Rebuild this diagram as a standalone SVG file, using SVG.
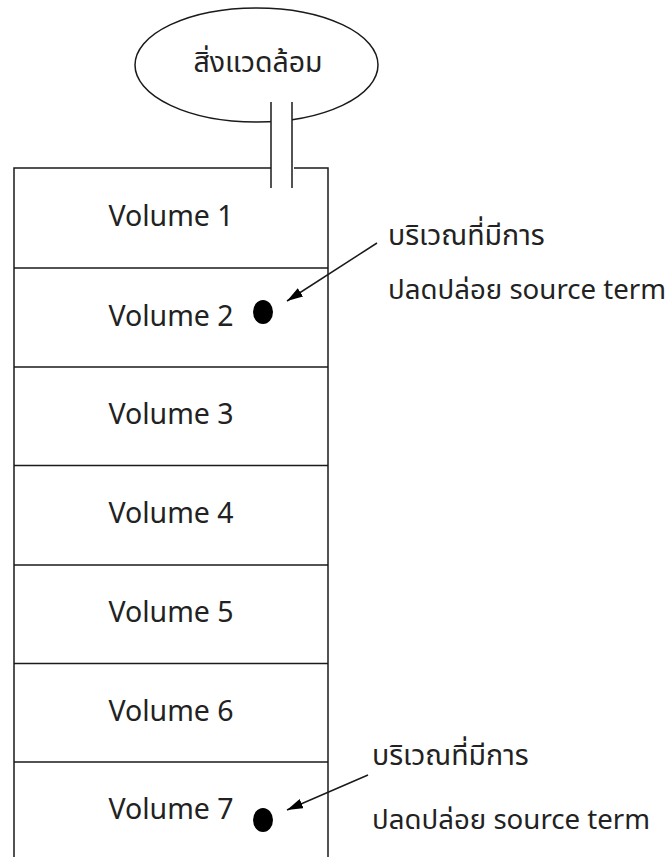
<svg xmlns="http://www.w3.org/2000/svg" width="670" height="857" viewBox="0 0 670 857">
  <style>
    .ln { fill: none; stroke: #1a1a1a; stroke-width: 1.5; }
    .lbl { font-family: "Noto Sans Thai", "Noto Sans Thai UI", "Leelawadee UI", Tahoma, "Noto Sans", "DejaVu Sans", sans-serif; fill: #222; }
    .vol { font-size: 28.5px; text-anchor: middle; }
    .note { font-size: 28.5px; }
    .note2 { font-size: 27.5px; }
    .dot { fill: #000; }
  </style>
  <defs>
    <marker id="arrowhead" viewBox="0 0 16 10" refX="16" refY="5" markerWidth="16" markerHeight="10" markerUnits="userSpaceOnUse" orient="auto">
      <path d="M0,0 L16,5 L0,10 Z" fill="#000"/>
    </marker>
  </defs>

  <rect width="670" height="857" fill="#fff"/>

  <!-- environment -->
  <g id="environment">
    <ellipse class="ln" cx="256.5" cy="65" rx="121.5" ry="57"/>
    <text class="lbl" x="258" y="72" font-size="28.5" text-anchor="middle">สิ่งแวดล้อม</text>
  </g>

  <!-- stack of control volumes -->
  <g id="volumes">
    <path class="ln" d="M14,860 V168 H271 M294,168 H328 V860"/>
    <g id="volume1"><text class="lbl vol" x="171" y="226">Volume 1</text></g>
    <g id="volume2"><line class="ln" x1="14" y1="268" x2="328" y2="268"/><text class="lbl vol" x="171" y="326">Volume 2</text></g>
    <g id="volume3"><line class="ln" x1="14" y1="367" x2="328" y2="367"/><text class="lbl vol" x="171" y="424">Volume 3</text></g>
    <g id="volume4"><line class="ln" x1="14" y1="465.5" x2="328" y2="465.5"/><text class="lbl vol" x="171" y="523">Volume 4</text></g>
    <g id="volume5"><line class="ln" x1="14" y1="565" x2="328" y2="565"/><text class="lbl vol" x="171" y="622">Volume 5</text></g>
    <g id="volume6"><line class="ln" x1="14" y1="663.5" x2="328" y2="663.5"/><text class="lbl vol" x="171" y="721">Volume 6</text></g>
    <g id="volume7"><line class="ln" x1="14" y1="762" x2="328" y2="762"/><text class="lbl vol" x="171" y="819">Volume 7</text></g>
  </g>

  <!-- flow path to the environment -->
  <g id="flowpath">
    <rect x="271" y="102" width="21" height="86" fill="#fff"/>
    <line class="ln" x1="271" y1="102" x2="271" y2="188"/>
    <line class="ln" x1="292" y1="102" x2="292" y2="188"/>
  </g>

  <!-- release points -->
  <g id="source2">
    <ellipse class="dot" cx="263" cy="312" rx="10" ry="12"/>
    <text class="lbl note" x="388" y="245">บริเวณที่มีการ</text>
    <text class="lbl note2" x="388" y="299" textLength="278" lengthAdjust="spacingAndGlyphs">ปลดปล่อย source term</text>
  </g>
  <g id="source7">
    <ellipse class="dot" cx="263" cy="820" rx="10" ry="12"/>
    <text class="lbl note" x="372" y="765">บริเวณที่มีการ</text>
    <text class="lbl note2" x="372" y="829" textLength="278" lengthAdjust="spacingAndGlyphs">ปลดปล่อย source term</text>
  </g>

  <g id="connectors">
    <line class="ln" x1="377" y1="243" x2="287" y2="301" marker-end="url(#arrowhead)"/>
    <line class="ln" x1="368" y1="775" x2="287" y2="810" marker-end="url(#arrowhead)"/>
  </g>
</svg>
